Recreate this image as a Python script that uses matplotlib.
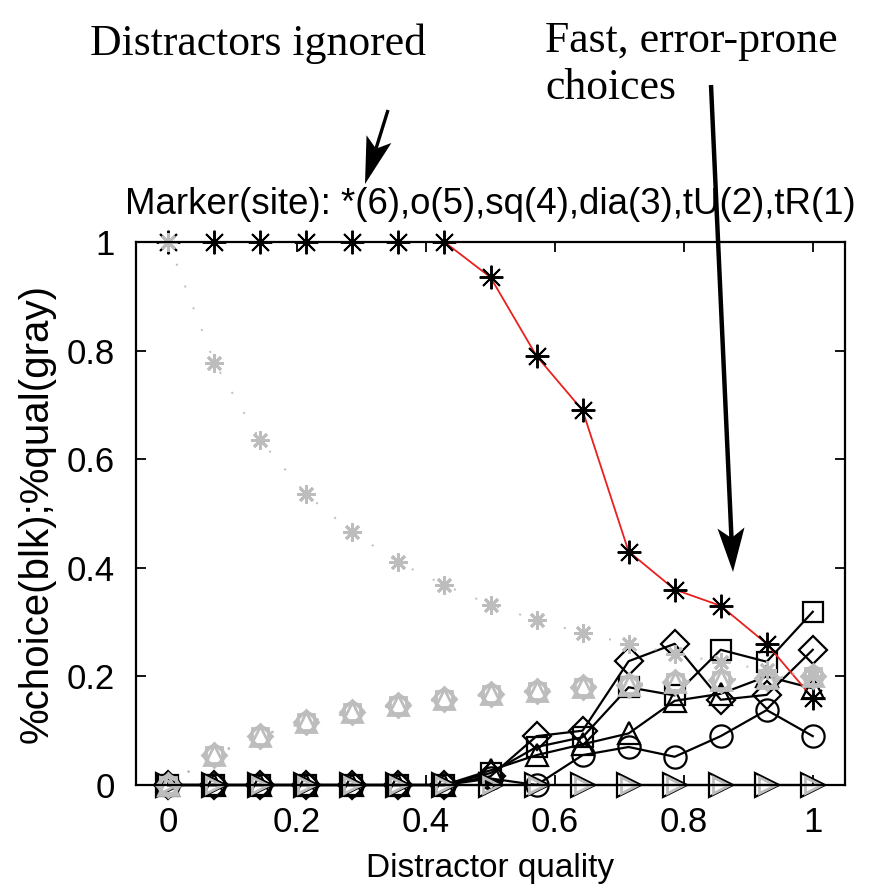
#choice / quality curves vs distractor quality

import numpy as np
import matplotlib
matplotlib.use('Agg')
import matplotlib.pyplot as plt
from matplotlib.lines import Line2D
from matplotlib.patches import Polygon

# distractor quality, 15 steps from 0 to 1
x = np.linspace(0, 1, 15)

# %choice (black) for each site
choice_site6 = [1, 1, 1, 1, 1, 1, 1, 0.935, 0.79, 0.69, 0.43, 0.36, 0.33, 0.26, 0.16]
choice_site5 = [0, 0, 0, 0, 0, 0, 0, 0.012, 0.0, 0.055, 0.07, 0.052, 0.09, 0.138, 0.09]
choice_site4 = [0, 0, 0, 0, 0, 0, 0, 0.022, 0.07, 0.088, 0.18, 0.165, 0.249, 0.227, 0.319]
choice_site3 = [0, 0, 0, 0, 0, 0, 0, 0.016, 0.09, 0.1, 0.228, 0.26, 0.157, 0.166, 0.249]
choice_site2 = [0, 0, 0, 0, 0, 0, 0, 0.027, 0.055, 0.075, 0.095, 0.155, 0.168, 0.2, 0.178]
choice_site1 = [0] * 15

# %quality (gray): site 6 and the shared curve of sites 2-5, site 1 stays at 0
qual_site6 = [1, 0.778, 0.635, 0.535, 0.466, 0.41, 0.368, 0.332, 0.304, 0.28, 0.26, 0.242, 0.226, 0.212, 0.2]
qual_sites2to5 = [0, 0.056, 0.091, 0.116, 0.134, 0.148, 0.158, 0.167, 0.174, 0.18, 0.185, 0.19, 0.194, 0.197, 0.2]
qual_site1 = [0] * 15

xticks = [0, 0.2, 0.4, 0.6, 0.8, 1]
yticks = [0, 0.2, 0.4, 0.6, 0.8, 1]

W, H = 882, 892
sans = ['Liberation Sans', 'DejaVu Sans']
serif = ['Liberation Serif', 'DejaVu Serif']
gray = '0.74'
star = (8, 2, 0)

fig = plt.figure(figsize=(W / 100, H / 100), dpi=100)
ax = fig.add_axes([136 / W, 1 - 785 / H, (845 - 136) / W, (785 - 242) / H])

blk = dict(color='k', lw=1.6, mfc='none', mec='k', mew=1.6, clip_on=False)
# black choice curves, sites 1..5
ax.plot(x, choice_site1, marker='>', ms=17, **blk)
ax.plot(x, choice_site2, marker='^', ms=16, **blk)
ax.plot(x, choice_site3, marker='D', ms=14, **blk)
ax.plot(x, choice_site4, marker='s', ms=14, **blk)
ax.plot(x, choice_site5, marker='o', ms=16, **blk)
# site 6: red line, black asterisks
ax.plot(x, choice_site6, color='#e8201e', lw=1.3, marker=star, ms=17, mec='k', mew=1.4,
        clip_on=False)

# gray quality curves (dotted)
dots = (0, (1, 11))
gry = dict(color=gray, lw=1.4, ls=dots, mfc='none', mec=gray, mew=2.0, clip_on=False)
ax.plot(x, qual_site1, marker='>', ms=11, **gry)
for m, s in [('^', 14), ('D', 12), ('s', 12), ('o', 14)]:
    ax.plot(x, qual_sites2to5, marker=m, ms=s, **gry)
ax.plot(x, qual_site6, marker=star, ms=13, **gry)

ax.set_xlim(-0.05, 1.05)
ax.set_ylim(0, 1)
ax.set_xticks(xticks)
ax.set_yticks(yticks)
ax.set_xticklabels(['0', '0.2', '0.4', '0.6', '0.8', '1'])
ax.set_yticklabels(['0', '0.2', '0.4', '0.6', '0.8', '1'])
ax.tick_params(direction='in', length=7, width=1.3, top=True, right=True, labelsize=25)
ax.tick_params(axis='x', pad=15)
ax.tick_params(axis='y', pad=15)
for lab in ax.get_xticklabels() + ax.get_yticklabels():
    lab.set_family(sans)
for sp in ax.spines.values():
    sp.set_linewidth(1.6)

ax.set_xlabel('Distractor quality', fontsize=24, family=sans, labelpad=10)
ax.set_ylabel('%choice(blk);%qual(gray)', fontsize=29, family=sans, labelpad=8)
ax.set_title('Marker(site): *(6),o(5),sq(4),dia(3),tU(2),tR(1)', fontsize=26.4,
             family=sans, pad=20)

# annotations above the plot
fig.text(258 / W, 1 - 55 / H, 'Distractors ignored', ha='center', va='baseline',
         fontsize=31.5, family=serif)
fig.text(545 / W, 1 - 52 / H, 'Fast, error-prone', ha='left', va='baseline',
         fontsize=31.5, family=serif)
fig.text(545 / W, 1 - 99 / H, 'choices', ha='left', va='baseline',
         fontsize=31.5, family=serif)


def draw_arrow(tail, tip, lw, head_len=45, head_w=26, notch=10):
    # tail and tip in pixels, origin top-left
    t = np.array(tail, float)
    p = np.array(tip, float)
    d = (p - t) / np.linalg.norm(p - t)
    n = np.array([-d[1], d[0]])
    back = p - d * head_len
    pts = [p, back + n * head_w / 2, p - d * (head_len - notch), back - n * head_w / 2]
    to_fig = lambda q: (q[0] / W, 1 - q[1] / H)
    shaft_end = p - d * (head_len - notch)
    fig.add_artist(Line2D([t[0] / W, shaft_end[0] / W], [1 - t[1] / H, 1 - shaft_end[1] / H],
                          color='k', lw=lw, solid_capstyle='butt'))
    fig.add_artist(Polygon([to_fig(q) for q in pts], closed=True, color='k', lw=0))


draw_arrow((388, 110), (365, 184), lw=2.4, head_len=47, head_w=26)
draw_arrow((711, 85), (733, 572), lw=3.2, head_len=44, head_w=27)

fig.savefig('out.png', dpi=100)
